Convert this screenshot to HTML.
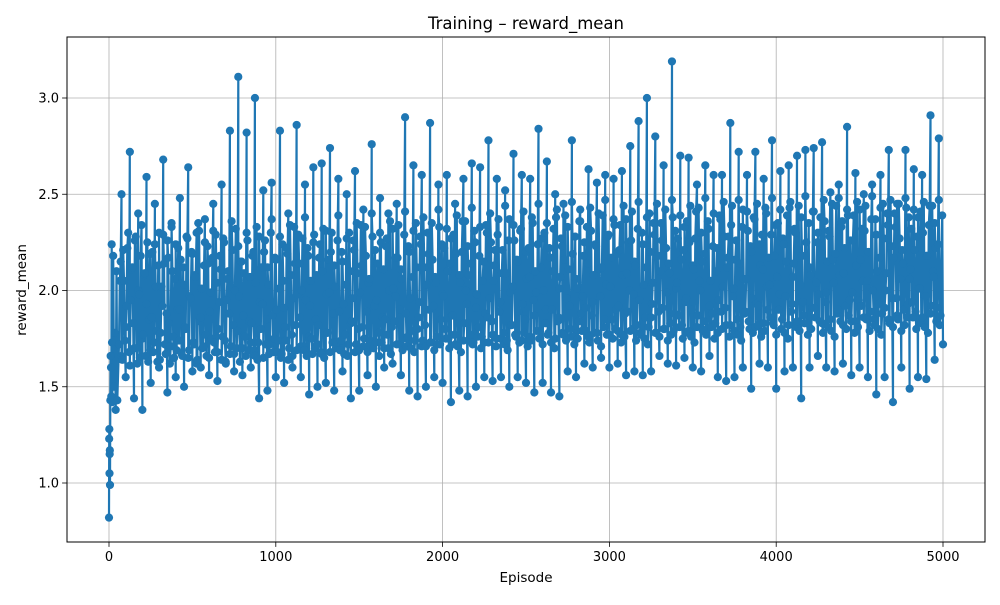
<!DOCTYPE html>
<html><head><meta charset="utf-8"><style>
body{margin:0;background:#fff;font-family:"Liberation Sans","DejaVu Sans",sans-serif}
svg text{font-family:"DejaVu Sans","Liberation Sans",sans-serif}
</style></head><body>
<svg id="chart" width="1000" height="600" viewBox="0 0 1000 600">
<rect x="0" y="0" width="1000" height="600" fill="#fff"/>
<text x="526" y="29" text-anchor="middle" font-size="16.5" fill="#000">Training – reward_mean</text>
<g id="grid"></g>
<g id="series"></g>
<rect x="67" y="37" width="918" height="505" fill="none" stroke="#000" stroke-width="1"/>
<g id="ticks"></g>
<text x="526" y="582" text-anchor="middle" font-size="13.5">Episode</text>
<text x="26" y="290" text-anchor="middle" font-size="13.5" transform="rotate(-90 26 290)">reward_mean</text>
</svg>
<script>
const xTicks=[0,1000,2000,3000,4000,5000];
const yTicks=[1.0,1.5,2.0,2.5,3.0];
const earlyEpisodes=[0,1,2,3,4,5,6,8,10,12,14,16,18,20,25,30,35,40,45,50];
const earlyValues=[0.82,1.23,1.28,1.05,1.15,1.17,0.99,1.43,1.66,1.6,1.45,2.24,1.73,1.42,2.18,1.5,1.78,1.38,2.1,1.43];
const laterStart=75, laterStep=25;
const laterValues=[2.5,1.55,2.72,1.44,2.4,1.38,2.59,1.52,2.45,1.6,2.68,1.47,2.35,1.55,2.48,1.5,2.64,1.58,2.3,1.6,
2.37,1.56,2.45,1.53,2.55,1.62,2.83,1.58,3.11,1.56,2.82,1.6,3.0,1.44,2.52,1.48,2.56,1.55,2.83,1.52,
2.4,1.6,2.86,1.55,2.55,1.46,2.64,1.5,2.66,1.52,2.74,1.48,2.58,1.58,2.5,1.44,2.62,1.48,2.42,1.56,
2.76,1.5,2.48,1.6,2.4,1.62,2.45,1.56,2.9,1.48,2.65,1.45,2.6,1.5,2.87,1.55,2.55,1.52,2.6,1.42,
2.45,1.48,2.58,1.45,2.66,1.5,2.64,1.55,2.78,1.53,2.58,1.55,2.52,1.5,2.71,1.55,2.6,1.52,2.58,1.47,
2.84,1.52,2.67,1.47,2.5,1.45,2.45,1.58,2.78,1.55,2.42,1.62,2.63,1.6,2.56,1.65,2.6,1.6,2.58,1.62,
2.62,1.56,2.75,1.58,2.88,1.56,3.0,1.58,2.8,1.66,2.65,1.62,3.19,1.61,2.7,1.65,2.69,1.6,2.55,1.58,
2.65,1.66,2.6,1.55,2.6,1.53,2.87,1.55,2.72,1.6,2.6,1.49,2.72,1.62,2.58,1.6,2.78,1.49,2.62,1.58,
2.65,1.6,2.7,1.44,2.73,1.6,2.74,1.66,2.77,1.6,2.51,1.58,2.55,1.62,2.85,1.56,2.61,1.6,2.5,1.55,
2.55,1.46,2.6,1.55,2.73,1.42,2.45,1.6,2.73,1.49,2.63,1.55,2.6,1.54,2.91,1.64,2.79,1.72];
const denseStart=60, denseStep=10;
const denseValues=[
1.72,2.15,1.64,2.05,1.81,2.22,1.68,1.95,2.12,1.7,2.28,1.62,1.98,2.18,1.75,2.08,1.66,2.25,1.85,1.69,
2.2,1.73,2.02,1.63,2.3,1.78,1.92,2.14,1.67,2.26,1.83,1.71,2.1,1.65,2.24,1.9,1.74,2.16,1.66,2.03,
1.8,2.27,1.69,1.96,2.19,1.72,2.07,1.64,2.31,1.86,1.7,2.13,1.77,2.23,1.65,1.99,2.17,1.73,2.29,1.68,
1.94,2.11,1.76,2.25,1.63,2.06,1.88,1.71,2.21,1.67,2.32,1.79,1.97,2.15,1.7,2.09,1.66,2.26,1.84,1.73,
2.18,1.69,2.04,1.64,2.28,1.8,1.93,2.2,1.72,2.12,1.67,2.3,1.87,1.75,2.16,1.68,2.01,1.65,2.24,1.91,
1.74,2.19,1.7,2.08,1.66,2.33,1.82,1.98,2.14,1.71,2.27,1.69,1.95,2.22,1.76,2.05,1.67,2.29,1.85,1.72,
2.17,1.68,2.1,1.65,2.31,1.78,1.99,2.2,1.73,2.13,1.7,2.26,1.89,1.74,2.15,1.67,2.03,1.66,2.3,1.83,
1.96,2.21,1.72,2.09,1.69,2.34,1.81,1.75,2.18,1.68,2.06,1.71,2.28,1.92,1.73,2.14,1.66,2.25,1.86,1.7,
2.23,1.77,2.0,1.67,2.32,1.84,1.97,2.17,1.72,2.11,1.69,2.29,1.88,1.76,2.2,1.7,2.07,1.68,2.35,1.8,
1.94,2.24,1.74,2.12,1.71,2.3,1.9,1.73,2.16,1.69,2.04,1.72,2.33,1.85,1.98,2.22,1.75,2.1,1.7,2.27,
1.87,1.77,2.19,1.71,2.08,1.68,2.36,1.83,2.0,2.23,1.74,2.14,1.72,2.31,1.91,1.76,2.18,1.7,2.05,1.73,
2.34,1.86,1.96,2.25,1.77,2.13,1.71,2.29,1.89,1.75,2.21,1.72,2.09,1.69,2.37,1.82,2.02,2.26,1.76,2.15,
1.73,2.32,1.93,1.78,2.2,1.71,2.07,1.74,2.35,1.87,1.99,2.24,1.75,2.12,1.72,2.3,1.9,1.77,2.22,1.73,
2.1,1.7,2.38,1.84,2.01,2.27,1.78,2.16,1.74,2.33,1.92,1.76,2.19,1.72,2.06,1.75,2.36,1.88,1.97,2.25,
1.79,2.14,1.73,2.31,1.94,1.78,2.23,1.74,2.11,1.71,2.39,1.85,2.03,2.28,1.77,2.17,1.75,2.34,1.9,1.79,
2.21,1.73,2.08,1.76,2.37,1.89,2.0,2.26,1.8,2.15,1.74,2.32,1.95,1.77,2.24,1.75,2.12,1.72,2.4,1.86,
2.04,2.29,1.78,2.18,1.76,2.35,1.91,1.8,2.22,1.74,2.09,1.77,2.38,1.88,2.01,2.27,1.81,2.16,1.75,2.33,
1.96,1.78,2.25,1.76,2.13,1.73,2.41,1.87,2.05,2.3,1.79,2.19,1.77,2.36,1.92,1.81,2.23,1.75,2.1,1.78,
2.39,1.89,2.02,2.28,1.82,2.17,1.76,2.34,1.97,1.79,2.26,1.77,2.14,1.74,2.42,1.88,2.06,2.31,1.8,2.2,
1.78,2.37,1.93,1.82,2.24,1.76,2.11,1.79,2.4,1.9,2.03,2.29,1.83,2.18,1.77,2.35,1.98,1.8,2.27,1.78,
2.15,1.75,2.43,1.89,2.07,2.32,1.81,2.21,1.79,2.38,1.94,1.83,2.25,1.77,2.12,1.8,2.41,1.91,2.04,2.3,
1.84,2.19,1.78,2.36,1.99,1.81,2.28,1.79,2.16,1.76,2.44,1.9,2.08,2.33,1.82,2.22,1.8,2.39,1.95,1.84,
2.26,1.78,2.13,1.81,2.42,1.92,2.05,2.31,1.85,2.2,1.79,2.37,2.0,1.82,2.29,1.8,2.17,1.77,2.45,1.91,
2.09,2.34,1.83,2.23,1.81,2.4,1.96,1.85,2.27,1.79,2.14,1.82,2.43,1.93,2.06,2.32,1.86,2.21,1.8,2.38,
2.01,1.83,2.3,1.81,2.18,1.78,2.44,1.92,2.1,2.35,1.84,2.24,1.82];
const dense2Start=65, dense2Step=10;
const dense2Values=[
2.05,1.66,2.21,1.74,1.92,2.3,1.61,2.11,1.83,2.26,1.7,2.0,1.65,2.34,1.77,2.09,1.93,1.63,2.19,1.86,
1.68,2.24,1.79,2.13,1.64,2.02,2.29,1.72,1.88,2.17,1.62,2.33,1.76,2.06,1.69,2.22,1.9,1.67,2.12,1.81,
2.28,1.65,1.97,2.2,1.73,2.08,1.62,2.35,1.84,2.01,1.71,2.25,1.66,2.14,1.89,1.75,2.31,1.68,2.04,1.8,
2.18,1.64,2.27,1.74,1.95,2.1,1.67,2.36,1.82,2.0,1.7,2.23,1.63,2.15,1.87,1.76,2.3,1.69,2.07,1.83,
2.2,1.66,2.33,1.73,1.94,2.12,1.65,2.26,1.85,2.03,1.72,2.37,1.68,2.17,1.9,1.74,2.28,1.67,2.05,1.81,
2.22,1.64,2.34,1.77,1.96,2.14,1.69,2.29,1.86,2.0,1.71,2.38,1.66,2.18,1.92,1.75,2.25,1.7,2.08,1.82,
2.24,1.67,2.32,1.78,1.98,2.16,1.68,2.3,1.88,2.02,1.73,2.39,1.69,2.2,1.93,1.77,2.27,1.72,2.1,1.84,
2.26,1.68,2.35,1.8,1.99,2.13,1.71,2.33,1.89,2.04,1.74,2.4,1.7,2.21,1.95,1.78,2.3,1.73,2.11,1.85,
2.27,1.7,2.36,1.81,2.01,2.17,1.72,2.34,1.9,2.06,1.75,2.41,1.71,2.23,1.96,1.79,2.31,1.74,2.12,1.86,
2.28,1.71,2.38,1.82,2.03,2.19,1.73,2.35,1.92,2.07,1.76,2.42,1.72,2.24,1.97,1.8,2.32,1.75,2.14,1.87,
2.29,1.72,2.39,1.83,2.04,2.2,1.74,2.36,1.93,2.08,1.77,2.43,1.73,2.25,1.98,1.81,2.33,1.76,2.15,1.88,
2.3,1.73,2.4,1.84,2.05,2.21,1.75,2.37,1.94,2.09,1.78,2.44,1.74,2.26,1.99,1.82,2.34,1.77,2.16,1.89,
2.31,1.74,2.41,1.85,2.06,2.22,1.76,2.38,1.95,2.1,1.79,2.45,1.75,2.27,2.0,1.83,2.35,1.78,2.17,1.9,
2.32,1.75,2.42,1.86,2.07,2.23,1.77,2.39,1.96,2.11,1.8,2.46,1.76,2.28,2.01,1.84,2.36,1.79,2.18,1.91,
2.33,1.76,2.43,1.87,2.08,2.24,1.78,2.4,1.97,2.12,1.81,2.47,1.77,2.29,2.02,1.85,2.37,1.8,2.19,1.92,
2.34,1.77,2.44,1.88,2.09,2.25,1.79,2.41,1.98,2.13,1.82,2.46,1.78,2.3,2.03,1.86,2.38,1.81,2.2,1.93,
2.35,1.78,2.45,1.89,2.1,2.26,1.8,2.42,1.99,2.14,1.83,2.47,1.79,2.31,2.04,1.87,2.39,1.82,2.21,1.94,
2.36,1.79,2.44,1.9,2.11,2.27,1.81,2.43,2.0,2.15,1.84,2.48,1.8,2.32,2.05,1.88,2.4,1.83,2.22,1.95,
2.37,1.8,2.46,1.91,2.12,2.28,1.82,2.44,2.01,2.16,1.85,2.47,1.81,2.33,2.06,1.89,2.41,1.84,2.23,1.96,
2.38,1.81,2.45,1.92,2.13,2.29,1.83,2.43,2.02,2.17,1.86,2.48,1.82,2.34,2.07,1.9,2.42,1.85,2.24,1.97,
2.39,1.82,2.46,1.93,2.14,2.3,1.84,2.44,2.03,2.18,1.87,2.49,1.83,2.35,2.08,1.91,2.41,1.86,2.25,1.98,
2.38,1.83,2.47,1.94,2.15,2.31,1.85,2.45,2.04,2.19,1.88,2.48,1.84,2.36,2.09,1.92,2.42,1.87,2.26,1.99,
2.39,1.84,2.46,1.95,2.16,2.32,1.86,2.44,2.05,2.2,1.89,2.49,1.85,2.37,2.1,1.93,2.43,1.88,2.27,2.0,
2.4,1.85,2.47,1.96,2.17,2.33,1.87,2.45,2.06,2.21,1.9,2.48,1.86,2.38,2.11,1.94,2.42,1.89,2.28,2.01,
2.41,1.86,2.46,1.97,2.18,2.34,1.88,2.44,2.07,2.22,1.91,2.47,1.87,2.39];

const NS='http://www.w3.org/2000/svg';
const X0=67,X1=985,Y0=37,Y1=542;
function xs(v){return 109+(v/5000)*(943-109);}
function ys(v){return 483-(v-1.0)*(483-98)/2.0;}

const grid=document.getElementById('grid'),ticks=document.getElementById('ticks'),ser=document.getElementById('series');
function mk(tag,attrs,parent){const e=document.createElementNS(NS,tag);for(const k in attrs)e.setAttribute(k,attrs[k]);parent.appendChild(e);return e;}

xTicks.forEach(t=>{
  const x=xs(t);
  const g=mk('line',{x1:x,x2:x,y1:Y0,y2:Y1,stroke:'#b0b0b0','stroke-width':0.8},grid);
  
  
  const tk=mk('line',{x1:x,x2:x,y1:Y1,y2:Y1+4.9,stroke:'#000','stroke-width':0.8},ticks);
  
  
  const tx=mk('text',{x:x,y:Y1+19,'text-anchor':'middle','font-size':13},ticks);
  tx.textContent=String(t);
  
  
});
yTicks.forEach(t=>{
  const y=ys(t);
  const g=mk('line',{x1:X0,x2:X1,y1:y,y2:y,stroke:'#b0b0b0','stroke-width':0.8},grid);
  
  
  const tk=mk('line',{x1:X0-4.9,x2:X0,y1:y,y2:y,stroke:'#000','stroke-width':0.8},ticks);
  
  
  const tx=mk('text',{x:X0-8,y:y+4.5,'text-anchor':'end','font-size':13},ticks);
  tx.textContent=t.toFixed(1);
  
  
});

const pts=[];
earlyEpisodes.forEach((e,i)=>pts.push([e,earlyValues[i]]));
laterValues.forEach((v,i)=>pts.push([laterStart+laterStep*i,v]));
denseValues.forEach((v,i)=>pts.push([denseStart+denseStep*i,v]));
dense2Values.forEach((v,i)=>pts.push([dense2Start+dense2Step*i,v]));
pts.sort((a,b)=>a[0]-b[0]);
const d=pts.map((p,i)=>(i?'L':'M')+xs(p[0]).toFixed(1)+' '+ys(p[1]).toFixed(1)).join(' ');
const line=mk('path',{d:d,fill:'none',stroke:'#1f77b4','stroke-width':2.2,'stroke-linejoin':'round'},ser);


pts.forEach(p=>{
  const c=mk('circle',{cx:xs(p[0]),cy:ys(p[1]),r:4.1,fill:'#1f77b4'},ser);
  
  
});
</script>
</body></html>
